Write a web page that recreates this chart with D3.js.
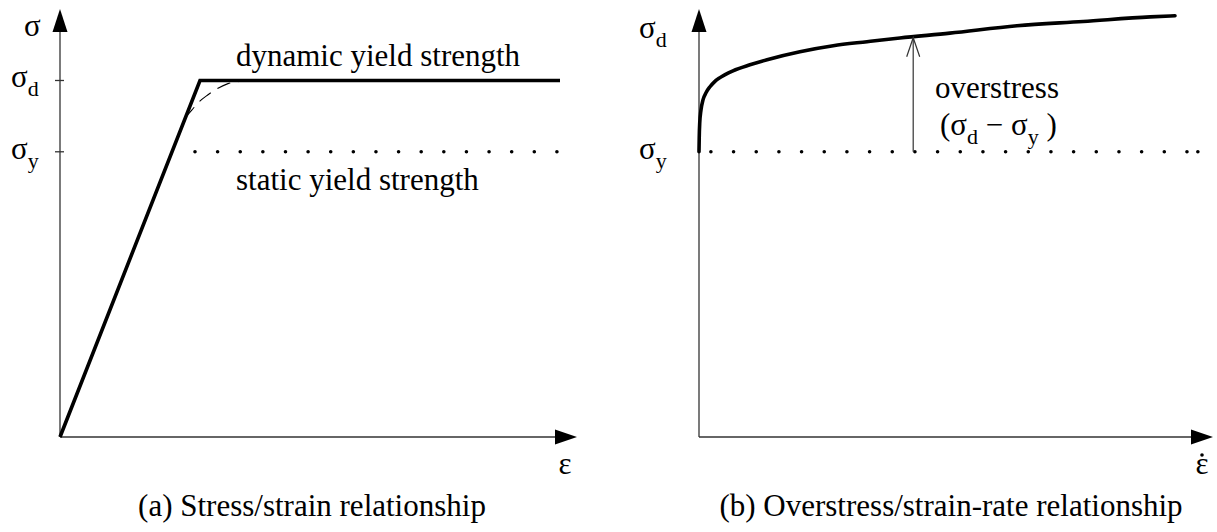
<!DOCTYPE html>
<html>
<head>
<meta charset="utf-8">
<script src="https://cdn.jsdelivr.net/npm/d3@7"></script>
<style>
  html, body { margin: 0; padding: 0; background: #fff; }
  svg { display: block; }
</style>
</head>
<body>
<svg id="chart" width="1217" height="532" font-family="'Liberation Serif', 'Times New Roman', serif"></svg>
<script>
// Stress expressed as a percentage of the static yield strength (sigma_y = 100).
const staticYield = 100;
const dynamicYield = 125;

// (a) bilinear stress/strain response: strain, stress
const strainPoints = [0, 2.8, 10];
const stressPoints = [0, 125, 125];

// (a) smoothed transition near the knee (dashed)
const transitionStrain = [2.5, 2.64, 2.78, 2.96, 3.16, 3.36, 3.6, 3.8];
const transitionStress = [111.9, 114.7, 117.5, 120, 122.3, 123.9, 124.7, 125];

// (a) static yield reference line extent (strain)
const staticLineStrain = [2.7, 10];

// (b) dynamic yield stress vs strain rate
const strainRate = [0, 0.05, 0.15, 0.4, 0.84, 1.5, 2.31, 3.3, 4.41, 7.14, 10.7, 14.3, 21.2, 28.2, 35.3, 42.2, 52.7, 66.8, 80.7, 94.8, 100];
const overStress = [100, 105, 110, 114.5, 118.2, 120.8, 122.8, 124.6, 126.0, 128.4, 130.5, 132.3, 135.1, 137.2, 138.6, 139.9, 141.6, 144.2, 145.7, 147.3, 147.7];

// (b) static yield reference line extent (strain rate) and overstress marker position
const staticLineRate = [2.5, 104.8];
const overstressRate = 45;

const FONT = "Liberation Serif";
const svg = d3.select("#chart");

// Shared stress scale
const y = d3.scaleLinear().domain([0, 142]).range([437, 32]);

// Panel scales
const xA = d3.scaleLinear().domain([0, 10]).range([60, 560]);
const xB = d3.scaleLinear().domain([0, 100]).range([699, 1175]);

const axisColor = "#333";

function addText(x, yPos, size, str, anchor) {
  return svg.append("text")
    .attr("x", x).attr("y", yPos)
    .attr("font-family", FONT).attr("font-size", size)
    .attr("text-anchor", anchor || "start")
    .attr("fill", "#000")
    .text(str);
}

function drawAxes(x0, yTop, xEnd) {
  const g = svg.append("g");
  const ox = x0, oy = y(0);
  // vertical axis
  g.append("line").attr("x1", ox).attr("y1", oy).attr("x2", ox).attr("y2", yTop)
    .attr("stroke", axisColor).attr("stroke-width", 1.3);
  g.append("path")
    .attr("d", `M${ox},${yTop - 23} L${ox - 7.5},${yTop} L${ox + 7.5},${yTop} Z`)
    .attr("fill", "#000");
  // horizontal axis
  g.append("line").attr("x1", ox).attr("y1", oy).attr("x2", xEnd).attr("y2", oy)
    .attr("stroke", axisColor).attr("stroke-width", 1.3);
  g.append("path")
    .attr("d", `M${xEnd + 22},${oy} L${xEnd},${oy - 7.5} L${xEnd},${oy + 7.5} Z`)
    .attr("fill", "#000");
  return g;
}

function sigmaLabel(xPos, yCenter, sub) {
  const t = addText(xPos, yCenter + 7, 31, null);
  t.append("tspan").text("σ");
  if (sub) {
    t.append("tspan").attr("dy", 9).attr("font-size", 22).text(sub);
  }
  return t;
}

// ---------------- Panel (a) ----------------
drawAxes(xA(0), y(142), 555);

// ticks on the stress axis
svg.selectAll(".tickA").data([staticYield, dynamicYield]).enter().append("line")
  .attr("x1", xA(0) - 5).attr("x2", xA(0) + 4)
  .attr("y1", d => y(d)).attr("y2", d => y(d))
  .attr("stroke", axisColor).attr("stroke-width", 1.3);

sigmaLabel(24, 28.5, null);
sigmaLabel(11, y(dynamicYield), "d");
sigmaLabel(11, y(staticYield), "y");

// static yield dotted line
svg.append("path")
  .attr("d", d3.line()([[xA(staticLineStrain[0]), y(staticYield)], [xA(staticLineStrain[1]), y(staticYield)]]))
  .attr("stroke", "#000").attr("stroke-width", 3.6).attr("stroke-linecap", "round")
  .attr("stroke-dasharray", "0 22.62").attr("fill", "none");

// smoothed transition (dashed)
svg.append("path")
  .datum(transitionStrain.map((s, i) => [s, transitionStress[i]]))
  .attr("d", d3.line().x(d => xA(d[0])).y(d => y(d[1])).curve(d3.curveMonotoneX))
  .attr("fill", "none").attr("stroke", "#000").attr("stroke-width", 1.1)
  .attr("stroke-dasharray", "14 8");

// bilinear response
svg.append("path")
  .datum(strainPoints.map((s, i) => [s, stressPoints[i]]))
  .attr("d", d3.line().x(d => xA(d[0])).y(d => y(d[1])))
  .attr("fill", "none").attr("stroke", "#000").attr("stroke-width", 3.6)
  .attr("stroke-linejoin", "miter");

addText(236, 66, 31, "dynamic yield strength");
addText(236, 190, 31, "static yield strength");

addText(565, 474, 31, "ε", "middle");

addText(312, 516, 31, "(a) Stress/strain relationship", "middle");

// ---------------- Panel (b) ----------------
drawAxes(xB(0), y(142), 1191);

sigmaLabel(639, 31, "d");
sigmaLabel(639, y(staticYield), "y");

// static yield dotted line
svg.append("path")
  .attr("d", d3.line()([[xB(staticLineRate[0]), y(staticYield)], [xB(staticLineRate[1]), y(staticYield)]]))
  .attr("stroke", "#000").attr("stroke-width", 3.6).attr("stroke-linecap", "round")
  .attr("stroke-dasharray", "0 22.67").attr("fill", "none");
svg.append("circle")
  .attr("cx", xB(staticLineRate[1])).attr("cy", y(staticYield)).attr("r", 1.8).attr("fill", "#000");

// overstress curve
const ratePts = strainRate.map((r, i) => [r, overStress[i]]);
svg.append("path")
  .datum(ratePts)
  .attr("d", d3.line().x(d => xB(d[0])).y(d => y(d[1])).curve(d3.curveMonotoneX))
  .attr("fill", "none").attr("stroke", "#000").attr("stroke-width", 3.6)
  .attr("stroke-linecap", "round");

// overstress arrow from static yield up to the curve
const idx = d3.bisectLeft(strainRate, overstressRate);
const t = (overstressRate - strainRate[idx - 1]) / (strainRate[idx] - strainRate[idx - 1]);
const stressAtArrow = overStress[idx - 1] + t * (overStress[idx] - overStress[idx - 1]);
const ax = xB(overstressRate), ayTop = y(stressAtArrow), ayBot = y(staticYield);
svg.append("line").attr("x1", ax).attr("x2", ax).attr("y1", ayBot).attr("y2", ayTop + 1)
  .attr("stroke", axisColor).attr("stroke-width", 1.2);
svg.append("path")
  .attr("d", `M${ax - 6.5},${ayTop + 20} L${ax},${ayTop + 1} L${ax + 6.5},${ayTop + 20}`)
  .attr("fill", "none").attr("stroke", axisColor).attr("stroke-width", 1.2);

addText(935, 98, 31, "overstress");
const os = addText(940, 135, 31, null);
os.append("tspan").text("(σ");
os.append("tspan").attr("dy", 9).attr("font-size", 22).text("d");
os.append("tspan").attr("dy", -9).text(" − σ");
os.append("tspan").attr("dy", 9).attr("font-size", 22).text("y");
os.append("tspan").attr("dy", -9).text(" )");

// strain-rate symbol: epsilon with the time-derivative dot above it
addText(1202, 474, 31, "ε", "middle");
svg.append("circle").attr("cx", 1202).attr("cy", 455).attr("r", 1.8).attr("fill", "#000");

addText(951, 516, 31, "(b) Overstress/strain-rate relationship", "middle");
</script>
</body>
</html>
